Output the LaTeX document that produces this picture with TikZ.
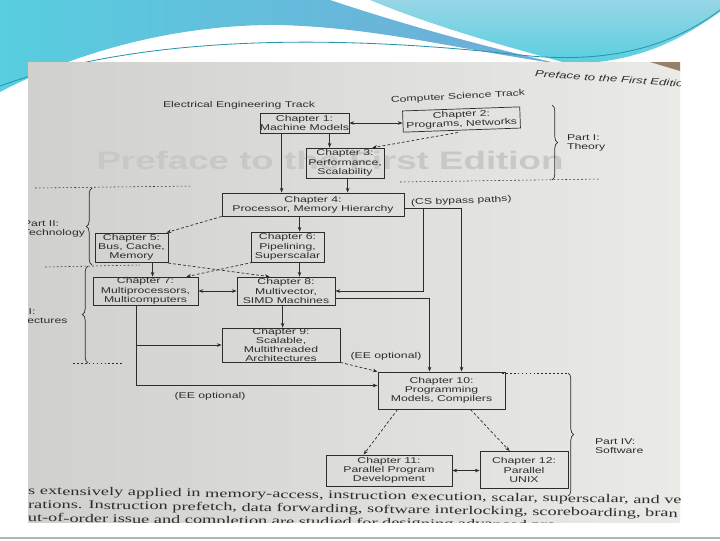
\documentclass[tikz,border=0pt]{standalone}
\usepackage{fontspec}
\usepackage{tikz}
\usetikzlibrary{arrows.meta}
\usetikzlibrary{calc}
\usetikzlibrary{decorations.pathreplacing}
\newfontfamily\boxfont[FakeStretch=1.45]{Liberation Sans}
\newfontfamily\pagefont[FakeStretch=1.55]{Liberation Serif}
\definecolor{ink}{RGB}{45,45,45}
\definecolor{pageleft}{RGB}{208,208,205}
\definecolor{pageright}{RGB}{234,234,231}
\definecolor{ghost}{RGB}{200,200,198}
\definecolor{waveblue}{RGB}{112,170,214}
\definecolor{wavecyan}{RGB}{88,206,224}
\definecolor{wavelight}{RGB}{150,214,230}
\definecolor{waveline}{RGB}{40,150,170}
\definecolor{bookedge}{RGB}{150,128,105}
\newcommand{\drawarrow}{\draw[-{Stealth[length=1.2mm, width=0.9mm]}]}
\newcommand{\drawdashed}{\draw[dash pattern=on 2pt off 1.5pt, -{Stealth[length=1.2mm, width=0.9mm]}]}
\newcommand{\drawboth}{\draw[{Stealth[length=1.2mm, width=0.9mm]}-{Stealth[length=1.2mm, width=0.9mm]}]}

\begin{document}
\begin{tikzpicture}[x=0.025cm, y=-0.025cm,
    chapbox/.style={draw, align=center, inner sep=0pt, font=\boxfont\fontsize{6}{6.6}\selectfont},
    tracklabel/.style={font=\boxfont\fontsize{6}{6.6}\selectfont},
    partlabel/.style={anchor=west, align=left, font=\boxfont\fontsize{6}{6.6}\selectfont},
    partbrace/.style={decorate, decoration={brace, amplitude=4pt}},
    partline/.style={dash pattern=on 1.2pt off 1.6pt, line width=0.4pt}]
    \useasboundingbox (0,0) rectangle (720,540);

    % Draw slide waves
    \shade[left color=wavecyan, right color=waveblue] (0,0) -- (330,0)
        .. controls (420,30) and (500,50) .. (560,64)
        .. controls (450,48) and (380,28) .. (280,25)
        .. controls (170,24) and (70,55) .. (0,92) -- cycle;
    \shade[top color=wavelight, bottom color=wavecyan] (370,0) -- (720,0) -- (720,12)
        .. controls (680,40) and (640,62) .. (570,64)
        .. controls (500,45) and (430,25) .. (370,0) -- cycle;
    \draw[waveline, line width=0.6pt] (0,86) .. controls (150,32) and (350,36) .. (520,55)
        .. controls (620,66) and (680,40) .. (720,10);
    \draw[gray!60, line width=1pt] (0,538) -- (720,538);

    % Draw page
    \shade[left color=pageleft, right color=pageright] (28,62) rectangle (680,522);
    \fill[bookedge] (650,62) -- (680,62) -- (680,71) -- cycle;

    \begin{scope}[ink, line width=0.5pt]
    \clip (28,62) rectangle (680,522);
    \node[text=ghost, font=\boxfont\bfseries\fontsize{18}{18}\selectfont] (ghosttitle) at (330,160) {Preface to the First Edition};
    \node[anchor=west, rotate=-4, font=\boxfont\itshape\fontsize{6.5}{7}\selectfont] (header) at (530,73) {Preface to the First Edition};

    % Draw chapters
    \node[chapbox, minimum width=2.08cm, minimum height=0.5cm] (ch1) at (304.5,123) {Chapter 1:\\Machine Models};
    \node[chapbox, rotate=2, minimum width=2.93cm, minimum height=0.53cm] (ch2) at (461.5,119.5) {Chapter 2:\\Programs, Networks};
    \node[chapbox, minimum width=1.95cm, minimum height=0.75cm] (ch3) at (345,163) {Chapter 3:\\Performance,\\Scalability};
    \node[chapbox, minimum width=4.55cm, minimum height=0.58cm] (ch4) at (313,204.5) {Chapter 4:\\Processor, Memory Hierarchy};
    \node[chapbox, minimum width=1.83cm, minimum height=0.73cm] (ch5) at (131.5,247.5) {Chapter 5:\\Bus, Cache,\\Memory};
    \node[chapbox, minimum width=1.83cm, minimum height=0.75cm] (ch6) at (287.5,247) {Chapter 6:\\Pipelining,\\Superscalar};
    \node[chapbox, minimum width=2.63cm, minimum height=0.7cm] (ch7) at (145.5,291) {Chapter 7:\\Multiprocessors,\\Multicomputers};
    \node[chapbox, minimum width=2.45cm, minimum height=0.7cm] (ch8) at (286,291) {Chapter 8:\\Multivector,\\SIMD Machines};
    \node[chapbox, minimum width=2.95cm, minimum height=0.85cm] (ch9) at (281,345) {Chapter 9:\\Scalable,\\Multithreaded\\Architectures};
    \node[chapbox, minimum width=3.18cm, minimum height=0.93cm] (ch10) at (441.5,390.5) {Chapter 10:\\Programming\\Models, Compilers};
    \node[chapbox, minimum width=3.15cm, minimum height=0.78cm] (ch11) at (389,470.5) {Chapter 11:\\Parallel Program\\Development};
    \node[chapbox, minimum width=2.2cm, minimum height=0.93cm] (ch12) at (524,470) {Chapter 12:\\Parallel\\UNIX};

    % Draw track labels
    \node[tracklabel] (eetrack) at (239,105) {Electrical Engineering Track};
    \node[tracklabel, rotate=3] (cstrack) at (458,97) {Computer Science Track};
    \node[tracklabel, anchor=west, rotate=2] (bypass) at (406,203) {(CS bypass paths)};
    \node[tracklabel] (eeopt1) at (386,356) {(EE optional)};
    \node[tracklabel] (eeopt2) at (210,396) {(EE optional)};

    % Draw parts
    \draw[partbrace] (552,105) -- (552,180);
    \node[partlabel] (part1) at (562,143) {Part I:\\Theory};
    \draw[partbrace] (92,265) -- (92,188);
    \node[partlabel] (part2) at (18,229) {Part II:\\Technology};
    \draw[partbrace] (88,363) -- (88,266);
    \node[partlabel] (part3) at (-9,316) {Part III:\\Architectures};
    \draw[partbrace] (568,373) -- (568,496);
    \node[partlabel] (part4) at (590,446) {Part IV:\\Software};
    \draw[partline] (35,188) -- (192,186);
    \draw[partline] (400,182) -- (600,179);
    \draw[partline] (45,267) -- (140,265);
    \draw[partline] (73,363) -- (122,363);
    \draw[partline] (502,373) -- (568,373);

    % Draw theory paths
    \drawboth (ch1.east) -- (ch1.east -| ch2.west);
    \drawarrow ($(ch1.south west)+(70,0)$) coordinate (s13) -- (s13 |- ch3.north);
    \drawdashed ($(ch2.south west)+(55,0)$) -- ($(ch3.north east)+(-12,0)$);
    \drawarrow ($(ch1.south west)+(22,0)$) coordinate (s14) -- (s14 |- ch4.north);
    \drawarrow ($(ch3.south west)+(42,0)$) coordinate (s34) -- (s34 |- ch4.north);

    % Draw technology paths
    \drawdashed (ch4.south west) -- ($(ch5.north east)+(-2,0)$);
    \drawarrow ($(ch4.south west)+(78,0)$) coordinate (s46) -- (s46 |- ch6.north);
    \drawarrow ($(ch5.south west)+(58,0)$) coordinate (s57) -- (s57 |- ch7.north);
    \drawdashed ($(ch5.south east)+(-5,0)$) -- ($(ch8.north west)+(33,0)$);
    \drawdashed ($(ch6.south west)+(2,0)$) -- ($(ch7.north east)+(-12,0)$);
    \drawarrow ($(ch6.south west)+(49,0)$) coordinate (s68) -- (s68 |- ch8.north);

    % Draw bypass paths
    \drawarrow ($(ch4.east)+(0,3.5)$) -| ($(ch10.north west)+(84,0)$);
    \drawarrow ($(ch4.east)+(19,3.5)$) |- (ch8.east);
    \drawboth (ch7.east) -- (ch8.west);
    \drawarrow ($(ch8.east)+(0,7)$) -| ($(ch10.north west)+(52,0)$);
    \drawarrow ($(ch8.south west)+(46,0)$) coordinate (s89) -- (s89 |- ch9.north);

    % Draw architecture paths
    \drawarrow ($(ch7.south west)+(44,0)$) |- (ch9.west);
    \drawarrow ($(ch7.south west)+(44,0)$) |- ($(ch10.west)+(0,-5)$);
    \drawdashed (ch9.south east) -- (ch10.north west);

    % Draw software paths
    \drawdashed ($(ch10.south west)+(20,0)$) -- ($(ch11.north west)+(38,0)$);
    \drawdashed ($(ch10.south east)+(-35,0)$) -- ($(ch12.north west)+(30,0)$);
    \drawboth (ch11.east) -- (ch11.east -| ch12.west);

    % Draw page text
    \node[anchor=north west, inner sep=0pt, rotate=-0.8, align=left, font=\pagefont\fontsize{8.4}{9.6}\selectfont] (body) at (28,486)
        {s extensively applied in memory-access, instruction execution, scalar, superscalar, and vec\\
         rations. Instruction prefetch, data forwarding, software interlocking, scoreboarding, bran\\
         ut-of-order issue and completion are studied for designing advanced pro};
    \end{scope}
\end{tikzpicture}
\end{document}
